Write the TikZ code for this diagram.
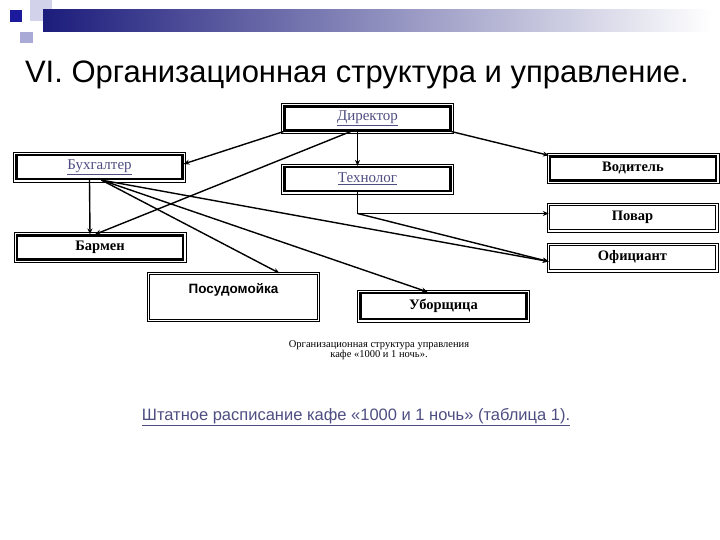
\documentclass[tikz,border=0pt]{standalone}
\usepackage{fontspec}
\setmainfont{Liberation Serif}
\setsansfont{Liberation Sans}
\usetikzlibrary{positioning}
\usetikzlibrary{arrows.meta}

\definecolor{navy}{HTML}{1C1C7C}
\definecolor{sqdark}{HTML}{1A1A9A}
\definecolor{sqlight}{HTML}{D2D2EA}
\definecolor{sqmid}{HTML}{AAAAD6}
\definecolor{linkblue}{HTML}{4E4E82}

\tikzset{
  unit/.style={draw, line width=2.2pt, minimum width=166pt, minimum height=24pt,
    inner sep=0pt, font=\fontsize{14.5}{15}\selectfont\bfseries},
  link/.style={font=\fontsize{15}{16}\selectfont, text=linkblue},
  frame/.style={line width=0.6pt},
}

\begin{document}
\begin{tikzpicture}[x=1pt, y=-1pt, >={Stealth[length=6pt,width=5pt]}, line width=1.4pt]
        \useasboundingbox[fill=white] (0,0) rectangle (720,540);

        % header squares and bar
        \fill[sqlight] (30,0) rectangle (52,21);
        \fill[sqdark] (10,10) rectangle (22,22);
        \fill[sqmid] (20,32) rectangle (33,43);
        \shade[left color=navy, right color=white] (43,10) rectangle (712,32);

        \node[anchor=base west, font=\sffamily\fontsize{31}{34}\selectfont] (title) at (21,83)
            {VI. Организационная структура и управление.};

        % boxes
        \node[unit, link] (dir) at (367.5,118.5) {\underline{Директор}};
        \node[unit, link] (buh) at (99.5,167) {\underline{Бухгалтер}};
        \node[unit, link] (tech) at (367.5,179) {\underline{Технолог}};
        \node[unit] (vod) at (633,168.5) {Водитель};
        \node[unit, line width=1.5pt] (pov) at (632.5,217.5) {Повар};
        \node[unit] (bar) at (100,247.5) {Бармен};
        \node[unit, line width=1.5pt] (ofi) at (632.5,257.5) {Официант};
        \node[unit, minimum height=26pt] (ubo) at (443.5,306) {Уборщица};
        \node[draw, double, double distance=1.5pt, line width=0.6pt, minimum width=170pt,
              minimum height=47pt,
              label={[anchor=north, yshift=-6pt, font=\sffamily\bfseries\fontsize{13.5}{15}\selectfont]north:Посудомойка}]
              (pos) at (233.5,297) {};

        \foreach \n in {dir,buh,tech,vod,pov,bar,ofi,ubo}
            \draw[frame] ([shift={(-1.8pt,1.8pt)}]\n.north west) rectangle ([shift={(1.8pt,-1.8pt)}]\n.south east);

        % connectors
        \draw[->] (dir.south west) -- ([yshift=3pt]buh.east);
        \draw[->] ([xshift=-10pt]dir.south) -- ([xshift=-10pt]tech.north);
        \draw[->] (dir.south east) -- (vod.north west);
        \draw[->] ([xshift=-17pt]dir.south) -- ([xshift=-5pt]bar.north);
        \draw[->] ([xshift=-10pt]buh.south) -- ([xshift=-10pt]bar.north);

        \coordinate (toPos) at ([xshift=46pt]pos.north);
        \coordinate (toUbo) at ([xshift=-16pt]ubo.north);
        \coordinate (toOfi) at ([yshift=-4pt]ofi.west);
        \foreach \t in {toPos,toUbo,toOfi}
            \draw[->] ([xshift=2pt]buh.south) -- (\t);

        \draw[->] ([xshift=-10pt]tech.south) |- coordinate[pos=0.5] (knee) ([yshift=4pt]pov.west);
        \draw[->] (knee) -- (toOfi);

        % captions
        \node[align=center, font=\fontsize{10.5}{10}\selectfont] (cap) at (379,350)
            {Организационная структура управления\\кафе «1000 и 1 ночь».};
        \node[font=\sffamily\fontsize{16.5}{18}\selectfont, text=linkblue] (staff) at (356,417)
            {\underline{Штатное расписание кафе «1000 и 1 ночь» (таблица 1).}};
\end{tikzpicture}
\end{document}
